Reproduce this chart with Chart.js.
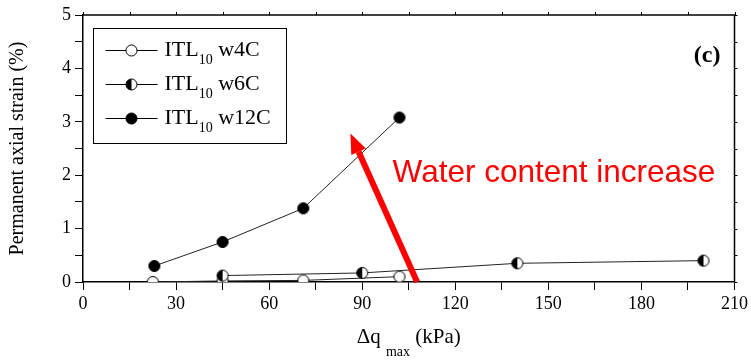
<!DOCTYPE html>
<html><head><meta charset="utf-8">
<script src="https://cdn.jsdelivr.net/npm/chart.js@4/dist/chart.umd.min.js"></script>
<style>html,body{margin:0;padding:0;background:#fff}canvas{display:block}</style>
</head><body><canvas id="c" width="751" height="360"></canvas>
<script>
// Permanent axial strain vs. maximum deviator stress for three water contents
const loadW4C = [22.5, 45, 71, 102];
const strainW4C = [0.0, 0.02, 0.03, 0.10];
const loadW6C = [45, 90, 140, 200];
const strainW6C = [0.12, 0.17, 0.35, 0.40];
const loadW12C = [23, 45, 71, 102];
const strainW12C = [0.30, 0.75, 1.38, 3.08];

const seriesBase = ['ITL', 'ITL', 'ITL'];
const seriesSub = ['10', '10', '10'];
const seriesSuffix = [' w4C', ' w6C', ' w12C'];
const seriesMarker = ['open', 'half', 'filled'];

const xTickLabels = [0, 30, 60, 90, 120, 150, 180, 210];
const yTickLabels = [0, 1, 2, 3, 4, 5];

const SERIF = '"Liberation Serif", "Times New Roman", serif';
const SANS = '"Liberation Sans", Arial, sans-serif';
const R = 5.5;

function pts(xs, ys) { return xs.map((x, i) => ({ x: x, y: ys[i] })); }

function drawMarker(ctx, kind, x, y) {
  ctx.save();
  ctx.lineWidth = 1;
  ctx.strokeStyle = '#000';
  ctx.beginPath();
  ctx.arc(x, y, R, 0, Math.PI * 2);
  ctx.fillStyle = kind === 'filled' ? '#000' : '#fff';
  ctx.fill();
  if (kind === 'half') {
    ctx.beginPath();
    ctx.arc(x, y, R, Math.PI / 2, Math.PI * 1.5);
    ctx.closePath();
    ctx.fillStyle = '#000';
    ctx.fill();
    ctx.beginPath();
    ctx.arc(x, y, R, 0, Math.PI * 2);
  }
  ctx.stroke();
  ctx.restore();
}

function markerImage(kind) {
  const c = document.createElement('canvas');
  c.width = 14; c.height = 14;
  drawMarker(c.getContext('2d'), kind, 7, 7);
  return c;
}

function series(i, xs, ys) {
  const kind = seriesMarker[i];
  return {
    label: seriesBase[i] + seriesSub[i] + seriesSuffix[i],
    data: pts(xs, ys),
    showLine: true,
    borderColor: '#222',
    borderWidth: 1,
    pointStyle: markerImage(kind),
    pointRadius: R,
    pointHoverRadius: R,
    clip: 0,
    order: 3 - i
  };
}

// Frame on the top and right sides with small outward ticks
const framePlugin = {
  id: 'frame',
  afterDraw(chart) {
    const { ctx, chartArea: a, scales } = chart;
    ctx.save();
    ctx.strokeStyle = '#000';
    ctx.lineWidth = 1.5;
    ctx.beginPath();
    ctx.moveTo(a.left, a.top); ctx.lineTo(a.right, a.top); ctx.lineTo(a.right, a.bottom);
    ctx.stroke();
    ctx.lineWidth = 1;
    ctx.beginPath();
    for (let v = 0; v <= 210; v += 15) {
      const px = Math.round(scales.x.getPixelForValue(v)) + 0.5;
      ctx.moveTo(px, a.top); ctx.lineTo(px, a.top - 3);
    }
    for (let v = 0; v <= 5; v += 0.5) {
      const py = Math.round(scales.y.getPixelForValue(v)) + 0.5;
      ctx.moveTo(a.right, py); ctx.lineTo(a.right + 3, py);
    }
    ctx.stroke();
    ctx.restore();
  }
};

// Trend arrow and its caption, placed in data units
const trendArrow = { from: [107.7, 0], to: [86.2, 2.78] };
const trendText = { text: 'Water content increase', at: [99.8, 1.87] };

const annotationPlugin = {
  id: 'annot',
  afterDatasetsDraw(chart) {
    const { ctx, scales } = chart;
    const x1 = scales.x.getPixelForValue(trendArrow.from[0]);
    const y1 = scales.y.getPixelForValue(trendArrow.from[1]);
    const x2 = scales.x.getPixelForValue(trendArrow.to[0]);
    const y2 = scales.y.getPixelForValue(trendArrow.to[1]);
    const ang = Math.atan2(y2 - y1, x2 - x1);
    const headLen = 20, headHalf = 8;
    const bx = x2 - headLen * Math.cos(ang), by = y2 - headLen * Math.sin(ang);
    ctx.save();
    ctx.strokeStyle = '#ff0000';
    ctx.fillStyle = '#ff0000';
    ctx.lineWidth = 6;
    ctx.beginPath(); ctx.moveTo(x1, y1); ctx.lineTo(bx, by); ctx.stroke();
    ctx.beginPath();
    ctx.moveTo(x2, y2);
    ctx.lineTo(bx + headHalf * Math.sin(ang), by - headHalf * Math.cos(ang));
    ctx.lineTo(bx - headHalf * Math.sin(ang), by + headHalf * Math.cos(ang));
    ctx.closePath(); ctx.fill();

    ctx.font = '31.5px ' + SANS;
    ctx.textBaseline = 'alphabetic';
    ctx.textAlign = 'left';
    ctx.fillText(trendText.text, scales.x.getPixelForValue(trendText.at[0]), scales.y.getPixelForValue(trendText.at[1]));
    ctx.restore();
  },
  afterDraw(chart) {
    const { ctx, chartArea: a } = chart;
    ctx.save();
    ctx.fillStyle = '#000';
    // panel tag
    ctx.font = 'bold 24px ' + SERIF;
    ctx.textAlign = 'right';
    ctx.textBaseline = 'alphabetic';
    ctx.fillText('(c)', a.right - 14, a.top + 47);

    // x-axis title with subscript
    const cx = (a.left + a.right) / 2;
    const base = a.bottom + 61;
    const p1 = '\u0394q ', p2 = 'max', p3 = ' (kPa)';
    ctx.font = '21px ' + SERIF;
    const w1 = ctx.measureText(p1).width, w3 = ctx.measureText(p3).width;
    ctx.font = '14px ' + SERIF;
    const w2 = ctx.measureText(p2).width;
    let x = cx - (w1 + w2 + w3) / 2;
    ctx.textAlign = 'left';
    ctx.font = '21px ' + SERIF; ctx.fillText(p1, x, base); x += w1;
    ctx.font = '14px ' + SERIF; ctx.fillText(p2, x, base + 13); x += w2;
    ctx.font = '21px ' + SERIF; ctx.fillText(p3, x, base);

    // legend box
    const lx = a.left + 10.5, ly = a.top + 13.5, lw = 193, lh = 115;
    ctx.fillStyle = '#fff';
    ctx.fillRect(lx, ly, lw, lh);
    ctx.strokeStyle = '#000'; ctx.lineWidth = 1;
    ctx.strokeRect(lx, ly, lw, lh);
    chart.data.datasets.forEach((ds, i) => {
      const rowY = ly + 22 + i * 34;
      ctx.strokeStyle = '#000'; ctx.lineWidth = 1;
      ctx.beginPath(); ctx.moveTo(lx + 12, rowY); ctx.lineTo(lx + 64, rowY); ctx.stroke();
      drawMarker(ctx, seriesMarker[i], lx + 38, rowY);
      ctx.fillStyle = '#000';
      let tx = lx + 71;
      ctx.font = '22px ' + SERIF; ctx.fillText(seriesBase[i], tx, rowY + 5.5); tx += ctx.measureText(seriesBase[i]).width;
      ctx.font = '14px ' + SERIF; ctx.fillText(seriesSub[i], tx, rowY + 13); tx += ctx.measureText(seriesSub[i]).width;
      ctx.font = '22px ' + SERIF; ctx.fillText(seriesSuffix[i], tx, rowY + 5.5);
    });
    ctx.restore();
  }
};

new Chart(document.getElementById('c'), {
  type: 'scatter',
  data: {
    datasets: [
      series(0, loadW4C, strainW4C),
      series(1, loadW6C, strainW6C),
      series(2, loadW12C, strainW12C)
    ]
  },
  options: {
    responsive: false,
    animation: false,
    layout: { padding: { left: 0, right: 14, top: 15, bottom: 0 } },
    plugins: { legend: { display: false }, tooltip: { enabled: false } },
    scales: {
      x: {
        type: 'linear', min: 0, max: 210,
        afterFit(s) { s.height = 78; },
        ticks: {
          stepSize: 15, autoSkip: false, maxRotation: 0, color: '#000',
          font: { family: SERIF, size: 18 }, padding: 3,
          callback: v => xTickLabels.includes(v) ? String(v) : ''
        },
        grid: { drawOnChartArea: false, drawTicks: true, tickLength: 8, color: '#000', lineWidth: 1 },
        border: { display: true, color: '#000', width: 1.5 },
        title: { display: false }
      },
      y: {
        type: 'linear', min: 0, max: 5,
        afterFit(s) { s.width = 83; },
        ticks: {
          stepSize: 0.5, autoSkip: false, color: '#000',
          font: { family: SERIF, size: 18 }, padding: 4,
          callback: v => yTickLabels.includes(v) ? String(v) : ''
        },
        grid: { drawOnChartArea: false, drawTicks: true, tickLength: 8, color: '#000', lineWidth: 1 },
        border: { display: true, color: '#000', width: 1.5 },
        title: {
          display: true, text: 'Permanent axial strain (%)', color: '#000',
          font: { family: SERIF, size: 20 }, padding: { top: 6, bottom: 0 }
        }
      }
    }
  },
  plugins: [framePlugin, annotationPlugin]
});
</script>
</body></html>
